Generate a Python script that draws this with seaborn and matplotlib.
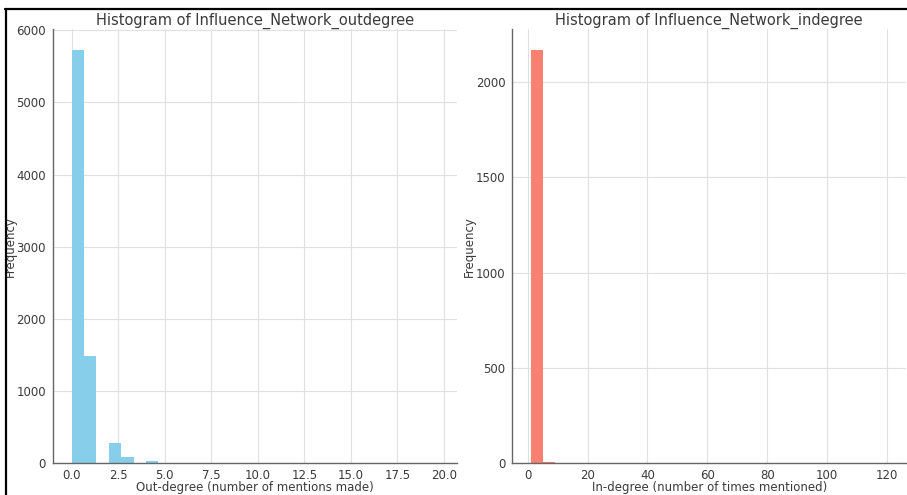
import numpy as np
import pandas as pd
import matplotlib
matplotlib.use("Agg")
import matplotlib.pyplot as plt
from matplotlib.lines import Line2D
import seaborn as sns

# ---- data ----
out_degree_values = [0, 1, 2, 3, 4, 5, 6, 7, 8, 9, 10, 12, 14, 16, 20]
out_degree_counts = [5730, 1490, 275, 90, 25, 8, 4, 3, 2, 2, 1, 1, 1, 1, 1]

in_degree_values = [1, 2, 3, 4, 6, 8, 10, 12, 15, 18, 25, 40, 60, 90, 121]
in_degree_counts = [1500, 380, 180, 110, 4, 3, 2, 2, 2, 1, 1, 1, 1, 1, 1]

titles = ["Histogram of Influence_Network_outdegree",
          "Histogram of Influence_Network_indegree"]
xlabels = ["Out-degree (number of mentions made)",
           "In-degree (number of times mentioned)"]
ylabel = "Frequency"
colors = ["#87CEEB", "#FA8072"]

# ---- style ----
sns.set_style("whitegrid")
plt.rcParams['font.family'] = ['DejaVu Sans']

W, H = 907, 495
fig = plt.figure(figsize=(W / 100, H / 100), dpi=100)

def px_axes(x0, x1, ytop, ybot):
    return fig.add_axes([x0 / W, (H - ybot) / H, (x1 - x0) / W, (ybot - ytop) / H])

ax1 = px_axes(53, 457, 29, 463.3)
ax2 = px_axes(512.3, 906, 29, 463.3)

df_out = pd.DataFrame({"v": out_degree_values, "w": out_degree_counts})
df_in = pd.DataFrame({"v": in_degree_values, "w": in_degree_counts})

sns.histplot(data=df_out, x="v", weights="w", bins=30, binrange=(0, 20),
             color=colors[0], alpha=1, linewidth=0, ax=ax1)
sns.histplot(data=df_in, x="v", weights="w", bins=30, binrange=(1, 121),
             color=colors[1], alpha=1, linewidth=0, ax=ax2)

ax1.set_xlim(-1.0, 20.7)
ax1.set_xticks([0, 2.5, 5, 7.5, 10, 12.5, 15, 17.5, 20])
ax1.set_xticklabels(["0.0", "2.5", "5.0", "7.5", "10.0", "12.5", "15.0", "17.5", "20.0"])
ax1.set_yticks([0, 1000, 2000, 3000, 4000, 5000, 6000])

ax2.set_xlim(-5.1, 126.3)
ax2.set_xticks([0, 20, 40, 60, 80, 100, 120])
ax2.set_yticks([0, 500, 1000, 1500, 2000])

txt = "#3a3a3a"
ax_h_px = 463.3 - 29
ylab_x = [-(53 - 17) / 404, -(512.3 - 476) / 393.7]
for ax, t, xl, yx in zip([ax1, ax2], titles, xlabels, ylab_x):
    ax.set_title(t, fontsize=10.5, color=txt, pad=3)
    ax.set_xlabel(xl, fontsize=8.5, color=txt)
    ax.set_ylabel(ylabel, fontsize=8.5, color=txt)
    ax.xaxis.set_label_coords(0.5, -(481.5 - 463.3) / ax_h_px)
    ax.yaxis.set_label_coords(yx, 0.5)
    ax.tick_params(axis="both", labelsize=8.5, labelcolor=txt, colors="#555555",
                   length=3, width=0.8, direction="out")
    ax.tick_params(axis="x", pad=1)
    ax.tick_params(axis="y", pad=2)
    ax.tick_params(axis="both", labelcolor=txt)
    ax.grid(True, color="#e0e0e0", linewidth=0.8)
    ax.set_axisbelow(True)
    for s in ["top", "right"]:
        ax.spines[s].set_visible(False)
    for s in ["left", "bottom"]:
        ax.spines[s].set_visible(True)
        ax.spines[s].set_color("#666666")
        ax.spines[s].set_linewidth(1.0)
    ax.set_facecolor("white")

# screenshot frame lines (top and left)
fig.add_artist(Line2D([5 / W, 1.0], [(H - 9) / H, (H - 9) / H], color="black",
                      linewidth=1.6, transform=fig.transFigure))
fig.add_artist(Line2D([6 / W, 6 / W], [0, (H - 9) / H], color="black",
                      linewidth=1.6, transform=fig.transFigure))

fig.savefig("out.png", dpi=100)
